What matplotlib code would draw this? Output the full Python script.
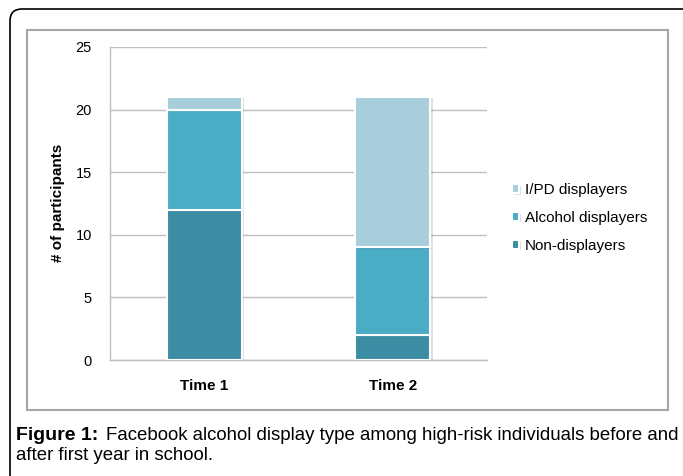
import matplotlib
matplotlib.use("Agg")
import matplotlib.pyplot as plt
import matplotlib.patheffects as pe
from matplotlib.patches import Rectangle, FancyBboxPatch

plt.rcParams['font.family'] = ['Liberation Sans', 'DejaVu Sans']

# dados
tempos = ["Time 1", "Time 2"]
non_disp = [12, 2]
alcohol_disp = [8, 7]
ipd_disp = [1, 12]
series = ["Non-displayers", "Alcohol displayers", "I/PD displayers"]
cores = ["#3C8CA4", "#4BACC6", "#A8CEDC"]
y_ticks = [0, 5, 10, 15, 20, 25]

fig = plt.figure(figsize=(6.83, 4.76), dpi=100)
ax = fig.add_axes([110/683, 1-360/476, 377/683, 313/476])

x = list(range(len(tempos)))
base = [0]*len(tempos)
sombra = [pe.SimplePatchShadow(offset=(1.5, -1), alpha=0.15), pe.Normal()]
for vals, nome, cor in zip([non_disp, alcohol_disp, ipd_disp], series, cores):
    ax.bar(x, vals, width=0.4, bottom=base, color=cor, edgecolor="white",
           linewidth=1.5, label=nome, zorder=3, path_effects=sombra)
    base = [b + v for b, v in zip(base, vals)]

ax.set_xlim(-0.5, 1.5)
ax.set_ylim(0, 25)
ax.set_yticks(y_ticks)
ax.set_xticks(x)
ax.set_xticklabels(tempos, fontweight="bold", fontsize=11)
ax.tick_params(axis="y", length=0, pad=13, labelsize=10.5)
ax.tick_params(axis="x", length=0, pad=14)
ax.yaxis.grid(True, color="#BFBFBF", linewidth=1, zorder=0)
ax.set_axisbelow(True)
for s in ["top", "right"]:
    ax.spines[s].set_visible(False)
for s in ["left", "bottom"]:
    ax.spines[s].set_color("#BFBFBF")
    ax.spines[s].set_linewidth(1)

fig.text(58/683, 1-203/476, "# of participants", rotation=90, fontweight="bold",
         fontsize=11, ha="center", va="center")

h, l = ax.get_legend_handles_labels()
ax.legend(h[::-1], l[::-1], loc="center left", bbox_to_anchor=(504/683, 1-218/476),
          bbox_transform=fig.transFigure, frameon=False, fontsize=11,
          handlelength=0.5, handleheight=0.5, handletextpad=0.35, labelspacing=0.9,
          borderpad=0)

# caixa interna cinza
fig.patches.append(Rectangle((27/683, 1-410/476), 641/683, 380/476, transform=fig.transFigure,
                             fill=False, edgecolor="#A6A6A6", linewidth=1.5))
# moldura externa com canto arredondado
fig.patches.append(FancyBboxPatch((0.10, -1), 10, 5.67, boxstyle="round,pad=0,rounding_size=0.12",
                                  transform=fig.dpi_scale_trans, fill=False,
                                  edgecolor="black", linewidth=1.2, clip_on=False))

# legenda da figura
fig.text(16/683, 1-435/476, "Figure 1:", fontweight="bold", fontsize=14, va="center")
fig.text(106/683, 1-435/476, "Facebook alcohol display type among high-risk individuals before and",
         fontsize=13.4, va="center")
fig.text(16/683, 1-456/476, "after first year in school.", fontsize=13.4, va="center")

fig.savefig("out.png", dpi=100)
